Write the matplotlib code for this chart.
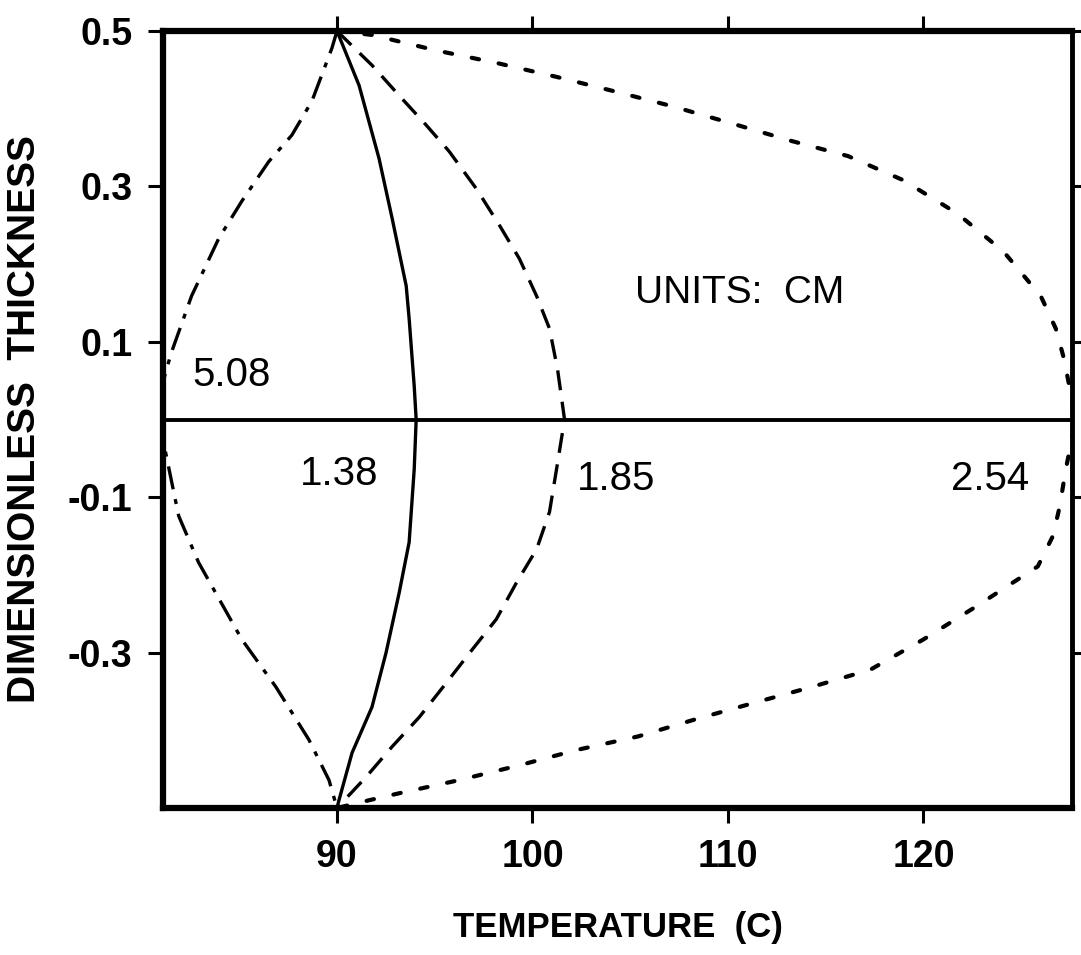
import numpy as np
import matplotlib
matplotlib.use('Agg')
import matplotlib.pyplot as plt

plt.rcParams['font.family'] = ['Liberation Sans', 'DejaVu Sans']

# thickness profiles (temperature C, dimensionless thickness)
T_138 = [90.0, 91.13, 92.15, 92.82, 93.54, 93.69, 93.95, 94.05,
         93.95, 93.69, 93.18, 92.51, 91.79, 90.77, 90.1, 90.0]
Y_138 = [0.5, 0.43, 0.336, 0.259, 0.172, 0.13, 0.043, 0.0,
         -0.064, -0.158, -0.223, -0.30, -0.37, -0.429, -0.49, -0.5]

T_185 = [90.0, 91.79, 93.18, 94.56, 95.74, 97.13, 98.31, 99.33, 100.21, 100.87, 101.28, 101.64,
         101.23, 100.87, 100.21, 99.18, 98.15, 96.92, 95.59, 94.21, 92.82, 91.49, 90.0]
Y_185 = [0.5, 0.456, 0.417, 0.379, 0.345, 0.297, 0.25, 0.207, 0.159, 0.117, 0.065, 0.0,
         -0.064, -0.119, -0.167, -0.21, -0.257, -0.296, -0.339, -0.383, -0.421, -0.46, -0.5]

T_254 = [90.0, 91.79, 95.08, 98.15, 101.23, 104.1, 107.18, 110.21, 113.18, 116.15, 118.97,
         121.74, 124.1, 126.0, 126.77, 127.18, 127.8,
         127.28, 126.97, 126.62, 125.85, 122.67, 120.0, 117.28, 114.31, 111.28, 108.31,
         105.38, 102.31, 99.33, 96.26, 93.18, 91.64, 90.0]
Y_254 = [0.5, 0.495, 0.475, 0.459, 0.441, 0.423, 0.403, 0.381, 0.359, 0.339, 0.308,
         0.265, 0.216, 0.159, 0.117, 0.079, 0.0,
         -0.064, -0.112, -0.15, -0.189, -0.241, -0.283, -0.322, -0.344, -0.365, -0.386,
         -0.408, -0.425, -0.445, -0.464, -0.481, -0.49, -0.5]

T_508 = [90.0, 89.74, 88.72, 87.69, 86.51, 85.13, 83.95, 82.56, 81.54, 81.28, 80.6,
         81.23, 81.9, 82.92, 85.13, 86.87, 88.56, 89.59, 90.0]
Y_508 = [0.5, 0.478, 0.41, 0.366, 0.332, 0.281, 0.233, 0.159, 0.087, 0.065, 0.0,
         -0.042, -0.124, -0.184, -0.283, -0.344, -0.412, -0.464, -0.5]

CURVE_LABELS = ['1.38', '1.85', '2.54', '5.08']
LABEL_X = [90.1, 104.3, 123.4, 84.6]
LABEL_Y = [-0.07, -0.077, -0.077, 0.057]

fig = plt.figure(figsize=(10.81, 9.55), dpi=100)
ax = fig.add_axes([0.1508, 0.1539, 0.8409, 0.8136])

lw = 2.4
ax.plot(T_138, Y_138, color='black', lw=lw, linestyle='-')
ax.plot(T_185, Y_185, color='black', lw=lw, linestyle=(0, (6, 3.5)))
ax.plot(T_254, Y_254, color='black', lw=3.0, linestyle=(0, (1.8, 4.8)),
        dash_capstyle='round')
ax.plot(T_508, Y_508, color='black', lw=lw, linestyle=(0, (7, 3, 1.5, 3)))
ax.axhline(0.0, color='black', lw=2.8)

for lab, x, y in zip(CURVE_LABELS, LABEL_X, LABEL_Y):
    ax.text(x, y, lab, fontsize=29, ha='center', va='center')
ax.text(110.6, 0.163, 'UNITS:  CM', fontsize=28, ha='center', va='center')

ax.set_xlim(81.1, 127.6)
ax.set_ylim(-0.5, 0.5)
ax.set_xticks([90, 100, 110, 120])
ax.set_yticks([0.5, 0.3, 0.1, -0.1, -0.3])
ax.set_yticklabels(['0.5', '0.3', '0.1', '-0.1', '-0.3'])

for side in ['left', 'bottom', 'top']:
    ax.spines[side].set_linewidth(4.5)
ax.spines['right'].set_linewidth(3.5)

ax.tick_params(axis='both', direction='out', length=11, width=2.2, labelsize=27,
               top=True, right=True, pad=11)
for t in ax.get_xticklabels() + ax.get_yticklabels():
    t.set_fontweight('bold')

ax.set_xlabel('TEMPERATURE  (C)', fontsize=25, fontweight='bold', labelpad=26)
ax.set_ylabel('DIMENSIONLESS  THICKNESS', fontsize=28, fontweight='bold', labelpad=18)

fig.savefig('out.png', dpi=100)
